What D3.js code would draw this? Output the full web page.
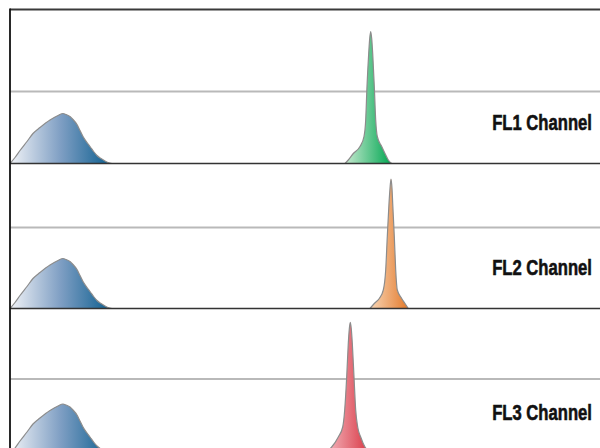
<!DOCTYPE html>
<html><head><meta charset="utf-8">
<script src="https://cdn.jsdelivr.net/npm/d3@7"></script>
<style>html,body{margin:0;padding:0;background:#fff;}svg{display:block;}</style>
</head><body>
<svg id="c" width="600" height="448"></svg>
<script>
// ---- data (x in channel units, y in counts) ----
const channels = ["FL1 Channel", "FL2 Channel", "FL3 Channel"];
const gridValues = [72, 81, 75];

const humpX = [0, 5, 10, 17, 23, 30, 40, 48, 53, 56, 60, 63, 67, 70, 73, 77, 80, 84, 87, 91, 95, 98, 102];
const humpY = [0, 6, 13, 22, 30, 36, 43.5, 48, 50, 49, 47, 44, 39, 33, 27, 21, 17, 11.5, 8, 5, 2.5, 1, 0];

const greenX = [335, 338.3, 343.3, 350, 354, 355.7, 357, 358.7, 359.7, 360.7, 361.7, 362.7, 364.3, 365.7, 367.3, 371.7, 375, 378.3, 381.7];
const greenY = [0, 3.5, 10, 17, 27, 43.5, 77, 110, 125, 132, 125, 110, 77, 43.5, 27, 17, 10, 3.5, 0];

const orangeX = [360, 364.3, 369.3, 373.3, 375.7, 377.3, 379, 380, 381, 382, 382.7, 384.3, 385.7, 387.3, 391.7, 395, 398.3];
const orangeY = [0, 5, 10, 18.5, 38.5, 72, 105, 120, 129.5, 120, 105, 72, 38.5, 18.5, 10, 5, 0];

const redX = [314.6, 317.9, 321.7, 328.3, 332.7, 334.7, 336.7, 338.3, 339.3, 340.3, 341.3, 342.3, 344, 345.7, 347.7, 350.7, 355, 358, 361.3];
const redY = [0, 3.5, 7, 17, 27, 44, 77, 110.7, 125, 131.7, 125, 110.7, 77, 44, 27, 17, 7, 3.5, 0];

const peaks = [
  {x: greenX, y: greenY, c0: "#c9ead1", c1: "#00a651"},
  {x: orangeX, y: orangeY, c0: "#f8d6b6", c1: "#e37a2c"},
  {x: redX, y: redY, c0: "#f4bcc3", c1: "#d8323f"}
];

// ---- layout ----
const W = 600, H = 448, left = 10;
const panelTop = [9.5, 163.5, 308.5];
const panelBottom = [163.5, 308.5, 454];

const svg = d3.select("#c");
const defs = svg.append("defs");

function grad(id, c0, c1, mid) {
  const g = defs.append("linearGradient").attr("id", id)
    .attr("x1", 0).attr("x2", 1).attr("y1", 0).attr("y2", 0);
  g.append("stop").attr("offset", 0).attr("stop-color", c0);
  if (mid) g.append("stop").attr("offset", 0.5).attr("stop-color", mid);
  g.append("stop").attr("offset", 1).attr("stop-color", c1);
}
grad("gBlue", "#f1f3f7", "#0a5d8e", "#7e9ec3");
peaks.forEach((p, i) => grad("gPeak" + i, p.c0, p.c1));

const x = d3.scaleLinear().domain([0, W - left]).range([left, W]);

channels.forEach((name, i) => {
  const top = panelTop[i], bot = panelBottom[i];
  const y = d3.scaleLinear().domain([0, bot - top]).range([bot, top]);
  const g = svg.append("g");

  // gridline
  g.append("line")
    .attr("x1", left).attr("x2", W)
    .attr("y1", y(gridValues[i])).attr("y2", y(gridValues[i]))
    .attr("stroke", "#b9b9b9").attr("stroke-width", 1.8);

  const area = d3.area()
    .x(d => x(d[0])).y0(y(0)).y1(d => y(d[1]))
    .curve(d3.curveMonotoneX);
  const line = d3.line()
    .x(d => x(d[0])).y(d => y(d[1]))
    .curve(d3.curveMonotoneX);

  const hump = humpX.map((v, k) => [v, humpY[k]]);
  g.append("path").attr("d", area(hump)).attr("fill", "url(#gBlue)");
  g.append("path").attr("d", line(hump)).attr("fill", "none")
    .attr("stroke", "#8c8c8c").attr("stroke-width", 1.2);

  const p = peaks[i];
  const pk = p.x.map((v, k) => [v, p.y[k]]);
  g.append("path").attr("d", area(pk)).attr("fill", "url(#gPeak" + i + ")");
  g.append("path").attr("d", line(pk)).attr("fill", "none")
    .attr("stroke", "#8c8c8c").attr("stroke-width", 1.2);

  // baseline
  g.append("line")
    .attr("x1", left).attr("x2", W).attr("y1", bot).attr("y2", bot)
    .attr("stroke", "#333").attr("stroke-width", 1.5);

  // label (condensed bold look via horizontal scaling)
  g.append("text")
    .attr("transform", `translate(592,${bot - 34}) scale(0.74,1)`)
    .attr("text-anchor", "end")
    .attr("font-family", "'Liberation Sans', Arial, sans-serif")
    .attr("font-weight", "bold")
    .attr("font-size", 22.5)
    .attr("fill", "#111")
    .attr("stroke", "#111").attr("stroke-width", 0.6)
    .text(name);
});

// top border
svg.append("line").attr("x1", left).attr("x2", W).attr("y1", panelTop[0]).attr("y2", panelTop[0])
  .attr("stroke", "#3a3a3a").attr("stroke-width", 1.8);
// left axis
svg.append("line").attr("x1", left).attr("x2", left).attr("y1", panelTop[0] - 1).attr("y2", H)
  .attr("stroke", "#111").attr("stroke-width", 1.8);
</script>
</body></html>
